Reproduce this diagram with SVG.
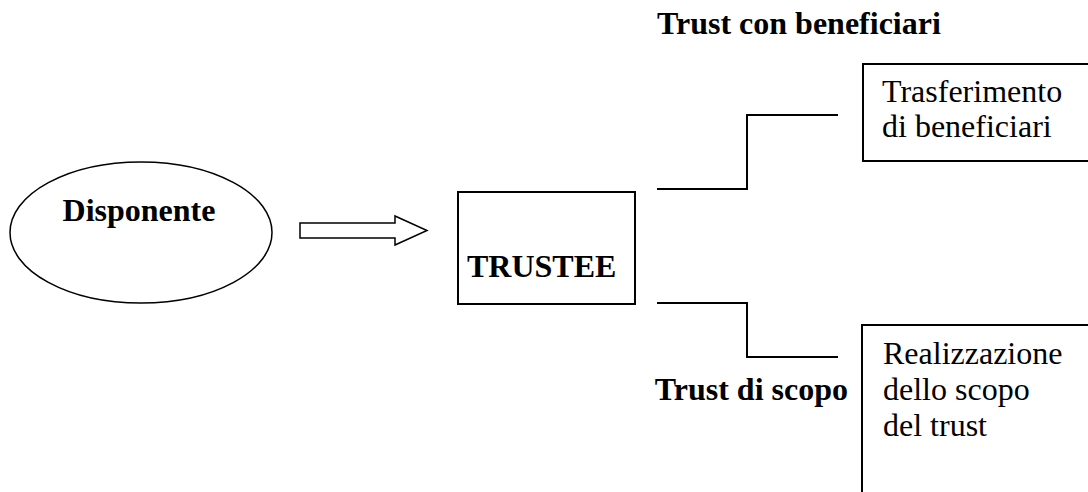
<svg xmlns="http://www.w3.org/2000/svg" width="1088" height="492" viewBox="0 0 1088 492">
<style>
  .t { font-family: "Liberation Serif", "Times New Roman", serif; font-size: 32px; fill: #000; }
  .b { font-weight: bold; }
  .shape { fill: #fff; stroke: #000; stroke-width: 2; }
  .thin { fill: #fff; stroke: #000; stroke-width: 1.5; }
  .conn { fill: none; stroke: #000; stroke-width: 2; }
</style>
<rect width="1088" height="492" fill="#fff"/>
<g id="disponente">
  <ellipse class="thin" cx="141" cy="232.5" rx="131" ry="70.5"/>
  <text class="t b" x="139" y="221" text-anchor="middle">Disponente</text>
</g>
<g id="trustee">
  <rect class="shape" x="458" y="192" width="177" height="112"/>
  <text class="t b" x="467" y="277">TRUSTEE</text>
</g>
<g id="trasferimento">
  <rect class="shape" x="863" y="64" width="240" height="97"/>
  <text class="t" x="882" y="102">Trasferimento</text>
  <text class="t" x="882" y="137">di beneficiari</text>
</g>
<g id="realizzazione">
  <rect class="shape" x="862" y="325" width="240" height="180"/>
  <text class="t" x="883" y="364">Realizzazione</text>
  <text class="t" x="883" y="400">dello scopo</text>
  <text class="t" x="883" y="436">del trust</text>
</g>
<g id="label-beneficiari">
  <text class="t b" x="657" y="34">Trust con beneficiari</text>
</g>
<g id="label-scopo">
  <text class="t b" x="848" y="400" text-anchor="end">Trust di scopo</text>
</g>
<g id="connectors">
  <polygon class="thin" points="300,223 395,223 395,216 427,230.5 395,245 395,238 300,238"/>
  <polyline class="conn" points="657,189 747,189 747,115 838,115"/>
  <polyline class="conn" points="657,303 747,303 747,357 838,357"/>
</g>
</svg>
